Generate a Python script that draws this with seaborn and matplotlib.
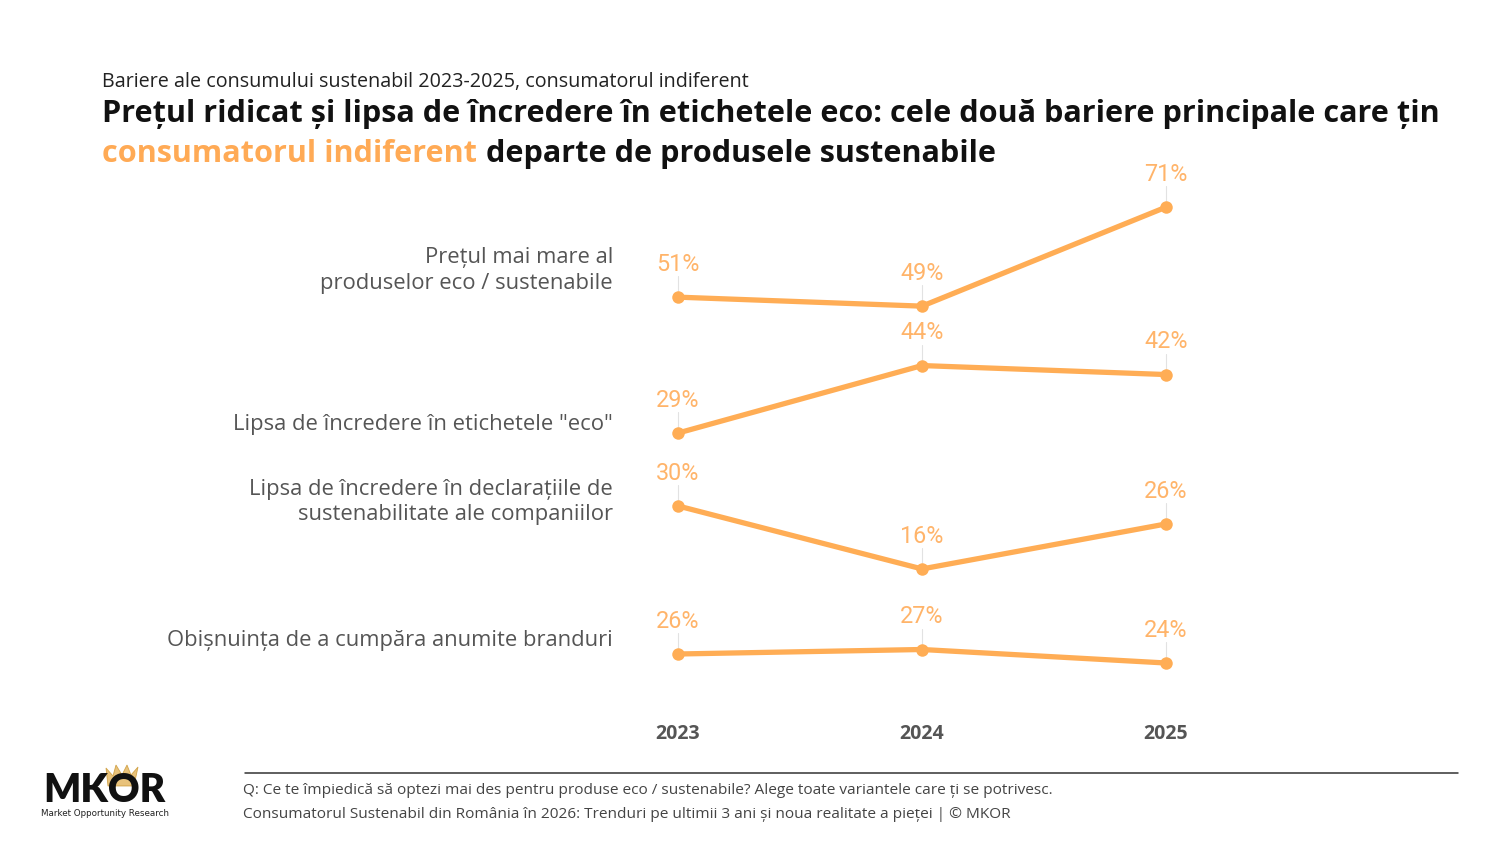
import pandas as pd
import matplotlib.pyplot as plt
import matplotlib.transforms as mtransforms
from matplotlib.lines import Line2D
from matplotlib.patches import Polygon
import seaborn as sns

# Data
years = [2023, 2024, 2025]
barriers = [
    'Prețul mai mare al\nproduselor eco / sustenabile',
    'Lipsa de încredere în etichetele "eco"',
    'Lipsa de încredere în declarațiile de\nsustenabilitate ale companiilor',
    'Obișnuința de a cumpăra anumite branduri',
]
price_high = [51, 49, 71]
eco_label_distrust = [29, 44, 42]
company_claims_distrust = [30, 16, 26]
brand_habit = [26, 27, 24]

# Each barrier sits in its own band of the chart (layout, in percentage points)
row_offset = [54.3, 46.1, 28.9, 0.0]
row_label_y = [111.3, 76.9, 59.8, 29.1]

LINE = '#FFAD55'
LABEL = '#FFB46A'
TITLE_ORANGE = '#FFAA55'

rows = []
for name, vals, off in zip(barriers,
                           [price_high, eco_label_distrust, company_claims_distrust, brand_habit],
                           row_offset):
    for yr, v in zip(years, vals):
        rows.append({'barrier': name, 'year': yr, 'value': v, 'pos': v + off})
df = pd.DataFrame(rows)

sns.set_style('white')
plt.rcParams['font.family'] = ['Open Sans', 'DejaVu Sans']

W, H = 1500, 844
fig = plt.figure(figsize=(15, 8.44), dpi=100)


def fx(px):
    return px / W


def fy(py):
    return 1 - py / H


# Axes placed so that 2023..2025 sit at x = 678..1166 px and 1 pp = 4.5 px
ax_left, ax_right, ax_top, ax_bottom = 620, 1230, 160, 700
ax = fig.add_axes([fx(ax_left), fy(ax_bottom), fx(ax_right - ax_left), (ax_bottom - ax_top) / H])
px_per_year = 244
ax.set_xlim(2023 - (678 - ax_left) / px_per_year, 2025 + (ax_right - 1166) / px_per_year)
ax.set_ylim((771 - ax_bottom) / 4.5, (771 - ax_top) / 4.5)

sns.lineplot(data=df, x='year', y='pos', units='barrier', estimator=None,
             color=LINE, linewidth=3.8, marker='o', markersize=9,
             markeredgewidth=0, ax=ax, legend=False)

# value labels with faint connector lines
for _, r in df.iterrows():
    ax.plot([r['year'], r['year']], [r['pos'] + 0.9, r['pos'] + 4.6],
            color='#e2e2e2', lw=0.8, zorder=1)
    ax.annotate(f"{r['value']}%", xy=(r['year'], r['pos']), xytext=(0, 23.5),
                textcoords='offset points', ha='center', va='center',
                fontsize=16.8, color=LABEL, family=['Roboto', 'DejaVu Sans'])

# row labels, right aligned left of the chart
trans = mtransforms.blended_transform_factory(fig.transFigure, ax.transData)
for name, y in zip(barriers, row_label_y):
    ax.text(fx(613), y, name, transform=trans, ha='right', va='center',
            fontsize=15.8, color='#555555', linespacing=1.3)

ax.set_xticks(years)
ax.set_xticklabels([str(y) for y in years], fontsize=14, fontweight='bold', color='#555555')
ax.tick_params(axis='x', length=0, pad=17)
ax.set_yticks([])
ax.set_xlabel('')
ax.set_ylabel('')
sns.despine(ax=ax, left=True, bottom=True)

# titles
fig.text(fx(102), fy(82), 'Bariere ale consumului sustenabil 2023-2025, consumatorul indiferent',
         ha='left', va='center', fontsize=14.2, color='#222222')
fig.text(fx(102), fy(114),
         'Prețul ridicat și lipsa de încredere în etichetele eco: cele două bariere principale care țin',
         ha='left', va='center', fontsize=22.1, fontweight='bold', color='#111111')
t_orange = fig.text(fx(102), fy(154), 'consumatorul indiferent', ha='left', va='center',
                    fontsize=22.1, fontweight='bold', color=TITLE_ORANGE)
fig.canvas.draw()
bb = t_orange.get_window_extent(renderer=fig.canvas.get_renderer())
fig.text(bb.x1 / W + fx(9), fy(154), 'departe de produsele sustenabile', ha='left', va='center',
         fontsize=22.1, fontweight='bold', color='#111111')

# footer
fig.add_artist(Line2D([fx(245), fx(1458)], [fy(773), fy(773)], color='#333333', lw=1.1))
fig.text(fx(243), fy(790),
         'Q: Ce te împiedică să optezi mai des pentru produse eco / sustenabile? Alege toate variantele care ți se potrivesc.',
         ha='left', va='center', fontsize=11.1, color='#444444')
fig.text(fx(243), fy(814),
         'Consumatorul Sustenabil din România în 2026: Trenduri pe ultimii 3 ani și noua realitate a pieței | © MKOR',
         ha='left', va='center', fontsize=11.1, color='#444444')

# logo
crown = [(108, 786), (106, 768), (113, 776), (116, 765), (122, 775), (127, 765),
         (131, 775), (138, 767), (134, 786)]
fig.add_artist(Polygon([(fx(x), fy(y)) for x, y in crown], closed=True,
                       facecolor='#E3B35A', edgecolor='#C9952F', lw=0.6, alpha=0.8,
                       transform=fig.transFigure))
fig.text(fx(104), fy(790), 'MKOR', ha='center', va='center', fontsize=28,
         fontweight='heavy', color='#111111', family=['Lato', 'DejaVu Sans'])
fig.text(fx(105), fy(813), 'Market Opportunity Research', ha='center', va='center',
         fontsize=6.3, color='#222222', family=['DejaVu Sans'])

fig.savefig('out.png', dpi=100, facecolor='white')
